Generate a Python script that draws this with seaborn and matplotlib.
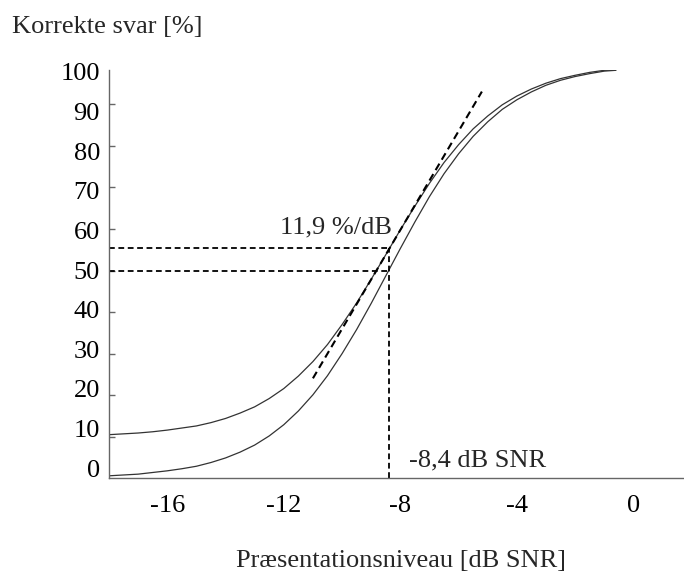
import matplotlib
matplotlib.use("Agg")
import matplotlib.pyplot as plt
import numpy as np
import pandas as pd
import seaborn as sns

# Presentation level [dB SNR]
snr = [-18, -17, -16.5, -16, -15.5, -15, -14.5, -14, -13.5, -13, -12.5, -12, -11.5, -11,
       -10.5, -10, -9.5, -9, -8.5, -8, -7.5, -7, -6.5, -6, -5.5, -5, -4.5, -4, -3.5, -3,
       -2.5, -2, -1.5, -1, -0.6]

# Percent correct, psychometric curve without guessing floor
pct_plain = [0.6, 1.0, 1.4, 1.8, 2.3, 2.9, 3.8, 4.9, 6.3, 8.0, 10.2, 12.9, 16.2, 20.1,
             24.7, 30.0, 35.8, 42.1, 48.7, 55.3, 61.7, 67.8, 73.3, 78.1, 82.3, 85.8,
             88.8, 91.1, 93.0, 94.6, 95.8, 96.7, 97.4, 98.0, 98.2]

# Percent correct, psychometric curve with 10 % guessing floor
pct_floor = [10.5, 10.9, 11.2, 11.6, 12.1, 12.6, 13.4, 14.4, 15.7, 17.2, 19.2, 21.6,
             24.6, 28.1, 32.2, 37.0, 42.2, 47.9, 53.8, 59.8, 65.5, 71.0, 76.0, 80.3,
             84.1, 87.2, 89.9, 92.0, 93.7, 95.1, 96.2, 97.0, 97.7, 98.2, 98.3]

srt = -8.4            # speech reception threshold [dB SNR]
slope = 11.9          # slope at threshold [%/dB]
level_plain = 50.0    # plain curve at threshold [%]
level_floor = 55.4    # floor curve at threshold [%]
tangent_span = (-11.0, -5.2)

y_ticks = [10, 20, 30, 40, 50, 60, 70, 80, 90]
y_labels = [0, 10, 20, 30, 40, 50, 60, 70, 80, 90, 100]
x_ticks = [-16, -12, -8, -4, 0]

sns.set_theme(style="white")
plt.rcParams["font.family"] = ["Liberation Serif", "DejaVu Serif"]

W, H = 684, 574
fig = plt.figure(figsize=(W / 100, H / 100), dpi=100)
ax = fig.add_axes([109 / W, (H - 478.3) / H, (682.9 - 109) / W, (478.3 - 70.3) / H])

df = pd.DataFrame({
    "snr": snr * 2,
    "pct": pct_plain + pct_floor,
    "curve": ["plain"] * len(snr) + ["floor"] * len(snr),
})
sns.lineplot(data=df, x="snr", y="pct", hue="curve", units="curve", estimator=None,
             palette={"plain": "#333333", "floor": "#333333"}, lw=0.9,
             legend=False, ax=ax)

dash = dict(color="black", lw=1.3, linestyle=(0, (3.2, 2.0)))
# horizontal guides from the y axis to the threshold
ax.plot([-18, srt], [level_floor, level_floor], **dash)
ax.plot([-18, srt], [level_plain, level_plain], **dash)
# vertical guide at the threshold
ax.plot([srt, srt], [0, level_floor], **dash)
# tangent with the stated slope through the threshold point
tx = np.array(tangent_span)
ax.plot(tx, 55.0 + slope * (tx - srt), color="black", lw=1.5, linestyle=(0, (3.6, 2.2)))

ax.text(-8.28, 59.0, "11,9 %/dB", ha="right", va="baseline", fontsize=19)
ax.text(-7.71, 2.8, "-8,4 dB SNR", ha="left", va="baseline", fontsize=19)

ax.set_xlim(-18, 1.7)
ax.set_ylim(0, 98.2)
ax.set_xticks(x_ticks)
ax.set_xticklabels([str(t) for t in x_ticks])
ax.set_yticks(y_ticks)
ax.set_yticklabels([])
ax.set_xlabel("")
ax.set_ylabel("")
for side in ("top", "right"):
    ax.spines[side].set_visible(False)
for side in ("left", "bottom"):
    ax.spines[side].set_color("#666666")
    ax.spines[side].set_linewidth(1.0)
ax.tick_params(axis="both", direction="in", length=4.5, width=1.0, color="#666666",
               labelsize=19, labelcolor="black")
ax.tick_params(axis="x", pad=12)
ax.tick_params(axis="y", left=True)

# y tick labels sit on their own, slightly compressed scale
lab = ax.twinx()
lab.set_position(ax.get_position())
lab.set_ylim(-2.52, 100.36)
lab.yaxis.set_ticks_position("left")
lab.set_yticks(y_labels)
lab.set_yticklabels([str(v) for v in y_labels])
lab.tick_params(axis="y", length=0, pad=6.5, labelsize=19, labelcolor="black")
for s in lab.spines.values():
    s.set_visible(False)
lab.grid(False)

fig.text(11.7 / W, 1 - 33 / H, "Korrekte svar [%]", ha="left", va="baseline", fontsize=19)
fig.text(401 / W, 1 - 567 / H, "Præsentationsniveau [dB SNR]", ha="center",
         va="baseline", fontsize=19)

fig.savefig("out.png", dpi=100)
